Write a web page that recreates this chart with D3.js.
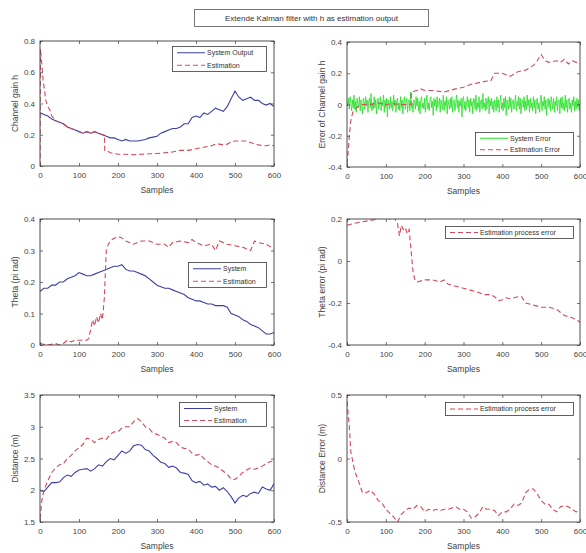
<!DOCTYPE html>
<html><head><meta charset="utf-8">
<script src="https://cdn.jsdelivr.net/npm/d3@7"></script>
<style>body{margin:0;background:#fff}svg{display:block}text{font-family:"Liberation Sans",Arial,sans-serif}</style>
</head><body><svg id="c" width="586" height="553"></svg>
<script>
// ---------- data ----------
const titleText = "Extende Kalman filter with h as estimation output";
const xTicks = [0,100,200,300,400,500,600];

// Panel 1: channel gain h
const hSysX = [0,10,20,30,40,50,60,70,80,90,100,110,120,130,140,150,160,170,180,190,200,210,220,230,240,250,260,270,280,290,300,310,320,330,340,350,360,370,380,390,400,410,420,430,440,450,460,470,480,490,500,510,520,530,540,550,560,570,580,590,600];
const hSysY = [0.34,0.33,0.32,0.30,0.29,0.28,0.27,0.25,0.24,0.23,0.22,0.21,0.22,0.21,0.22,0.21,0.20,0.19,0.18,0.18,0.17,0.16,0.17,0.16,0.16,0.16,0.165,0.17,0.18,0.185,0.19,0.21,0.22,0.23,0.24,0.24,0.25,0.27,0.27,0.31,0.32,0.31,0.34,0.33,0.35,0.37,0.36,0.35,0.38,0.43,0.48,0.44,0.42,0.43,0.44,0.42,0.42,0.40,0.39,0.40,0.38];
const hEstX = [0,1,3,8,15,20,25,30,40,50,60,70,80,90,100,110,120,130,140,150,160,165,166,170,180,190,200,220,240,260,280,300,320,340,360,380,400,420,440,450,460,470,480,490,500,520,530,540,550,560,570,580,590,600];
const hEstY = [0.0,0.75,0.70,0.55,0.42,0.38,0.36,0.32,0.29,0.28,0.27,0.25,0.24,0.23,0.22,0.21,0.22,0.21,0.22,0.21,0.20,0.20,0.10,0.10,0.085,0.08,0.075,0.075,0.072,0.075,0.078,0.08,0.085,0.09,0.10,0.10,0.11,0.12,0.13,0.14,0.14,0.135,0.14,0.155,0.16,0.16,0.16,0.15,0.14,0.135,0.13,0.13,0.135,0.13];

// Panel 2: error of channel gain h
const hErrSysX = d3.range(0, 601, 2);
const hErrSysY = [
0.02,-0.01,0.04,-0.03,0.05,0.01,-0.04,0.03,-0.02,0.06,
-0.03,0.02,-0.05,0.04,0.00,-0.02,0.05,-0.04,0.03,0.01,
-0.06,0.04,0.02,-0.03,0.05,-0.01,0.03,-0.05,0.02,0.04,
-0.02,0.07,-0.04,0.01,-0.03,0.05,-0.02,0.03,-0.06,0.02,
0.04,-0.03,0.01,0.05,-0.04,0.02,-0.01,0.06,-0.05,0.03,
-0.02,0.04,-0.08,0.03,0.01,-0.03,0.05,-0.02,0.02,-0.04,
0.06,-0.01,0.03,-0.05,0.02,0.04,-0.03,0.01,-0.04,0.05,
-0.02,0.03,-0.06,0.02,0.05,-0.03,0.01,0.04,-0.05,0.02,
0.03,-0.04,0.08,-0.02,0.01,-0.05,0.03,0.02,-0.03,0.05,
-0.01,0.04,-0.04,0.02,-0.06,0.03,0.05,-0.02,0.01,-0.03,
0.04,-0.05,0.02,0.06,-0.03,0.01,-0.04,0.03,0.05,-0.02,
0.02,-0.07,0.04,-0.01,0.03,-0.04,0.05,-0.02,0.01,0.04,
-0.05,0.03,0.01,-0.03,0.06,-0.04,0.02,-0.01,0.05,-0.06,
0.03,0.00,-0.03,0.04,-0.02,0.05,-0.05,0.02,0.03,-0.04,
0.01,0.06,-0.02,0.03,-0.05,0.02,-0.01,0.04,-0.08,0.03,
0.05,-0.03,0.02,-0.04,0.01,0.05,-0.02,0.03,-0.05,0.04,
-0.01,0.02,-0.06,0.04,0.03,-0.03,0.06,-0.04,0.01,-0.02,
0.05,-0.05,0.02,0.03,-0.03,0.07,-0.02,0.01,-0.04,0.04,
-0.03,0.02,0.05,-0.06,0.03,-0.01,0.04,-0.03,0.02,-0.05,
0.03,0.01,-0.04,0.05,-0.02,0.03,-0.05,0.02,0.06,-0.03,
0.01,-0.04,0.04,-0.02,0.05,-0.07,0.03,0.01,-0.03,0.05,
-0.02,0.04,-0.05,0.02,0.03,-0.03,0.01,0.06,-0.04,0.02,
-0.01,0.05,-0.03,0.04,-0.06,0.02,0.03,-0.02,0.05,-0.04,
0.02,-0.03,0.06,-0.01,0.03,-0.05,0.04,-0.02,0.01,-0.04,
0.05,-0.02,0.03,-0.06,0.02,0.04,-0.03,0.01,-0.05,0.03,
0.06,-0.04,0.02,-0.01,0.05,-0.03,0.03,-0.07,0.02,0.04,
-0.02,0.03,-0.04,0.05,0.01,-0.03,0.04,-0.05,0.02,-0.01,
0.05,-0.04,0.02,0.03,-0.06,0.04,-0.02,0.05,-0.03,0.01,
-0.04,0.06,-0.02,0.03,-0.05,0.02,0.04,-0.03,0.01,-0.05,
0.03,-0.01,0.05,-0.04,0.02,-0.03,0.04,-0.02,0.03,-0.04,
0.01];
const hErrEstX = [0,3,6,10,15,20,30,40,60,80,100,120,140,160,165,166,180,190,200,220,250,280,300,320,340,360,370,380,400,420,440,460,480,490,500,510,520,540,550,560,570,580,600];
const hErrEstY = [-0.38,-0.3,-0.2,-0.1,-0.05,-0.03,-0.01,0.0,0.0,0.01,0.0,0.005,0.0,0.0,0.0,0.08,0.09,0.10,0.09,0.09,0.08,0.10,0.11,0.13,0.14,0.15,0.15,0.20,0.20,0.18,0.21,0.22,0.25,0.28,0.32,0.28,0.27,0.28,0.27,0.29,0.26,0.28,0.26];

// Panel 3: theta
const thSysX = hSysX;
const thSysY = [0.17,0.18,0.18,0.19,0.19,0.20,0.20,0.21,0.215,0.22,0.23,0.225,0.22,0.22,0.225,0.23,0.235,0.24,0.245,0.25,0.25,0.255,0.24,0.235,0.235,0.23,0.225,0.22,0.21,0.20,0.19,0.185,0.18,0.18,0.175,0.17,0.165,0.16,0.15,0.145,0.14,0.14,0.135,0.13,0.13,0.125,0.125,0.125,0.12,0.10,0.095,0.09,0.08,0.075,0.065,0.06,0.055,0.045,0.035,0.035,0.04];
const thEstX = [0,20,40,50,60,70,80,90,100,110,120,125,130,135,140,145,150,155,160,165,170,175,185,200,210,220,240,260,280,300,320,330,340,360,380,390,400,420,440,450,460,470,480,500,520,540,550,560,580,600];
const thEstY = [0.005,0.0,0.005,0.0,0.005,0.015,0.01,0.015,0.015,0.015,0.015,0.02,0.05,0.08,0.06,0.09,0.07,0.10,0.08,0.15,0.30,0.32,0.335,0.345,0.34,0.33,0.32,0.33,0.33,0.32,0.32,0.31,0.325,0.33,0.325,0.335,0.325,0.315,0.32,0.30,0.33,0.325,0.32,0.315,0.31,0.30,0.33,0.325,0.32,0.305];

// Panel 4: theta error
const thErrX = [0,20,50,80,100,110,120,130,135,140,145,150,155,160,165,170,175,180,200,220,240,250,260,280,300,320,340,350,370,380,390,400,410,420,440,450,460,480,500,520,540,560,580,600];
const thErrY = [0.17,0.18,0.19,0.20,0.21,0.20,0.21,0.18,0.12,0.17,0.15,0.16,0.13,0.15,0.05,-0.05,-0.09,-0.10,-0.09,-0.09,-0.10,-0.09,-0.11,-0.12,-0.13,-0.14,-0.15,-0.16,-0.16,-0.17,-0.19,-0.185,-0.175,-0.18,-0.17,-0.17,-0.20,-0.21,-0.22,-0.22,-0.23,-0.26,-0.27,-0.29];

// Panel 5: distance
const dSysX = hSysX;
const dSysY = [2.0,1.98,2.05,2.12,2.12,2.13,2.2,2.24,2.22,2.28,2.32,2.33,2.34,2.3,2.34,2.4,2.38,2.45,2.5,2.48,2.55,2.62,2.58,2.62,2.7,2.72,2.71,2.64,2.62,2.55,2.5,2.44,2.42,2.36,2.38,2.35,2.28,2.27,2.25,2.15,2.12,2.14,2.08,2.1,2.05,2.06,2.0,2.04,1.98,1.9,1.8,1.88,1.92,1.9,1.95,1.97,1.95,2.05,2.02,2.0,2.1];
const dEstX = [0,5].concat(hSysX.slice(1));
const dEstY = [1.55,1.85,2.0,2.15,2.28,2.35,2.4,2.42,2.5,2.55,2.62,2.67,2.72,2.82,2.8,2.75,2.8,2.82,2.8,2.88,2.92,2.92,2.98,3.0,3.0,3.08,3.13,3.08,3.0,2.97,2.9,2.88,2.85,2.82,2.75,2.77,2.75,2.68,2.66,2.65,2.58,2.55,2.57,2.5,2.45,2.4,2.38,2.35,2.3,2.25,2.18,2.17,2.22,2.28,2.32,2.35,2.33,2.35,2.38,2.42,2.45,2.47];

// Panel 6: distance error
const dErrX = [0,3,6].concat(hSysX.slice(1));
const dErrY = [0.45,0.35,0.25,0.05,-0.1,-0.18,-0.27,-0.27,-0.25,-0.28,-0.33,-0.35,-0.4,-0.43,-0.46,-0.5,-0.44,-0.41,-0.39,-0.4,-0.37,-0.38,-0.42,-0.4,-0.41,-0.4,-0.41,-0.4,-0.4,-0.39,-0.38,-0.4,-0.4,-0.42,-0.47,-0.46,-0.43,-0.38,-0.4,-0.4,-0.41,-0.45,-0.42,-0.42,-0.4,-0.36,-0.37,-0.35,-0.27,-0.24,-0.24,-0.28,-0.33,-0.36,-0.36,-0.4,-0.42,-0.38,-0.37,-0.38,-0.4,-0.42,-0.41];

const yTicks1 = [0,0.2,0.4,0.6,0.8];
const yTicks2 = [-0.4,-0.2,0,0.2,0.4];
const yTicks3 = [0,0.1,0.2,0.3,0.4];
const yTicks4 = [-0.4,-0.2,0,0.2];
const yTicks5 = [1.5,2,2.5,3,3.5];
const yTicks6 = [-0.5,0,0.5];

// ---------- drawing ----------
const BLUE = "#3d3fa8", RED = "#d3485a", GREEN = "#22e022", AX = "#3a3a3a", TXT = "#444";
const svg = d3.select("#c");

svg.append("rect").attr("x",194.5).attr("y",9.5).attr("width",234).attr("height",17)
  .attr("fill","#fff").attr("stroke","#777").attr("stroke-width",1);
svg.append("text").attr("x",311.5).attr("y",21).attr("text-anchor","middle")
  .attr("font-size",8).attr("fill","#333").text(titleText);

function zip(xs, ys){ return xs.map((x,i)=>[x, ys[i]]); }

const panels = [
  {box:[40,41,274,166], yDom:[0,0.8], yT:yTicks1, ylab:"Channel gain h", ylx:15,
   series:[{d:zip(hSysX,hSysY),c:BLUE},{d:zip(hEstX,hEstY),c:RED,dash:true}],
   leg:{x:172,y:46,w:94,h:25,items:[{t:"System Output",c:BLUE},{t:"Estimation",c:RED,dash:true}]}},
  {box:[347,42,580,167], yDom:[-0.4,0.4], yT:yTicks2, ylab:"Error of Channel gain h", ylx:322,
   series:[{d:zip(hErrSysX,hErrSysY),c:GREEN,w:0.8},{d:zip(hErrEstX,hErrEstY),c:RED,dash:true}],
   leg:{x:475,y:132,w:98,h:23,items:[{t:"System Error",c:GREEN},{t:"Estimation Error",c:RED,dash:true}]}},
  {box:[40,219,274,345], yDom:[0,0.4], yT:yTicks3, ylab:"Theta (pi rad)", ylx:15,
   series:[{d:zip(thSysX,thSysY),c:BLUE},{d:zip(thEstX,thEstY),c:RED,dash:true}],
   leg:{x:188,y:262,w:78,h:25,items:[{t:"System",c:BLUE},{t:"Estimation",c:RED,dash:true}]}},
  {box:[347,219,580,345], yDom:[-0.4,0.2], yT:yTicks4, ylab:"Theta error (pi rad)", ylx:322,
   series:[{d:zip(thErrX,thErrY),c:RED,dash:true}],
   leg:{x:445,y:226,w:128,h:12,items:[{t:"Estimation process error",c:RED,dash:true}]}},
  {box:[40,395,274,522], yDom:[1.5,3.5], yT:yTicks5, ylab:"Distance (m)", ylx:15,
   series:[{d:zip(dSysX,dSysY),c:BLUE},{d:zip(dEstX,dEstY),c:RED,dash:true}],
   leg:{x:179,y:402,w:87,h:24,items:[{t:"System",c:BLUE},{t:"Estimation",c:RED,dash:true}]}},
  {box:[347,395,580,522], yDom:[-0.5,0.5], yT:yTicks6, ylab:"Distance Error (m)", ylx:322,
   series:[{d:zip(dErrX,dErrY),c:RED,dash:true}],
   leg:{x:445,y:402,w:128,h:13,items:[{t:"Estimation process error",c:RED,dash:true}]}}
];

panels.forEach(p=>{
  const [x0,y0,x1,y1] = p.box;
  const x = d3.scaleLinear().domain([0,600]).range([x0,x1]);
  const y = d3.scaleLinear().domain(p.yDom).range([y1,y0]);
  const g = svg.append("g");
  const clipId = "clip"+x0+"_"+y0;
  svg.append("clipPath").attr("id",clipId).append("rect").attr("x",x0).attr("y",y0).attr("width",x1-x0).attr("height",y1-y0);
  const line = d3.line().x(d=>x(d[0])).y(d=>y(d[1]));
  p.series.forEach(s=>{
    g.append("path").attr("d",line(s.d)).attr("fill","none").attr("stroke",s.c)
      .attr("stroke-width",s.w||1.1).attr("stroke-dasharray",s.dash?"5,3":null)
      .attr("clip-path","url(#"+clipId+")");
  });
  const fmt = d=>String(d);
  const ax = (gen, tr)=>{ const a=g.append("g").attr("transform",tr).call(gen);
    a.select(".domain").remove(); a.selectAll("line").attr("stroke",AX).attr("stroke-width",0.7);
    a.selectAll("text").attr("fill",TXT).attr("font-size",8).attr("font-family","Liberation Sans, Arial, sans-serif");
    return a; };
  ax(d3.axisBottom(x).tickValues(xTicks).tickSize(-3).tickPadding(6).tickFormat(fmt),`translate(0,${y1})`);
  ax(d3.axisTop(x).tickValues(xTicks).tickSize(-3).tickFormat(""),`translate(0,${y0})`);
  ax(d3.axisLeft(y).tickValues(p.yT).tickSize(-3).tickPadding(5).tickFormat(fmt),`translate(${x0},0)`);
  ax(d3.axisRight(y).tickValues(p.yT).tickSize(-3).tickFormat(""),`translate(${x1},0)`);
  g.append("rect").attr("x",x0).attr("y",y0).attr("width",x1-x0).attr("height",y1-y0)
    .attr("fill","none").attr("stroke",AX).attr("stroke-width",0.9);
  g.append("text").attr("x",(x0+x1)/2).attr("y",y1+27).attr("text-anchor","middle")
    .attr("font-size",8.5).attr("fill",TXT).text("Samples");
  g.append("text").attr("transform",`translate(${p.ylx},${(y0+y1)/2}) rotate(-90)`)
    .attr("text-anchor","middle").attr("dy","0.35em").attr("font-size",8.5).attr("fill",TXT).text(p.ylab);
  const L = p.leg;
  g.append("rect").attr("x",L.x+0.5).attr("y",L.y+0.5).attr("width",L.w).attr("height",L.h)
    .attr("fill","#fff").attr("stroke",AX).attr("stroke-width",0.8);
  const n = L.items.length;
  L.items.forEach((it,i)=>{
    const cy = L.y + L.h*(i+0.5)/n + 0.5;
    g.append("line").attr("x1",L.x+5).attr("x2",L.x+33).attr("y1",cy).attr("y2",cy)
      .attr("stroke",it.c).attr("stroke-width",1).attr("stroke-dasharray",it.dash?"5,3":null);
    g.append("text").attr("x",L.x+35).attr("y",cy).attr("dy","0.35em").attr("font-size",7)
      .attr("fill","#333").text(it.t);
  });
});
</script></body></html>
